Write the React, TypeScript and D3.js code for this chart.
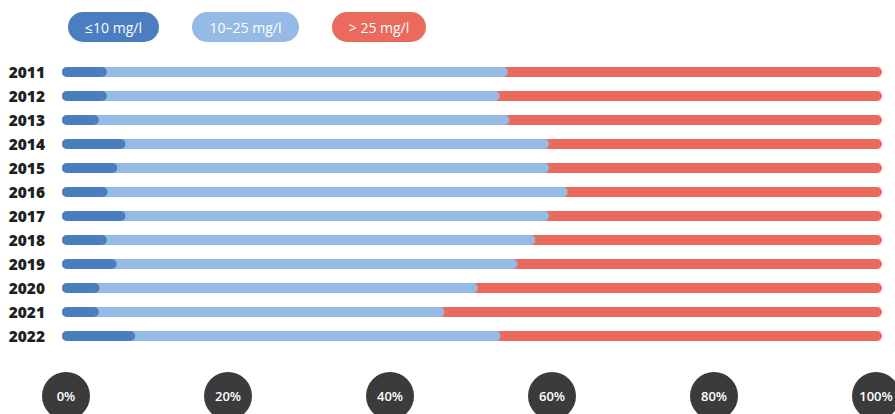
import { useMemo } from "react";
import * as d3 from "d3";

const WIDTH = 895;
const HEIGHT = 414;

// share of measurements per class, in %
const years = ["2011", "2012", "2013", "2014", "2015", "2016", "2017", "2018", "2019", "2020", "2021", "2022"];
const low = [4.3, 4.3, 3.3, 6.6, 5.6, 4.4, 6.6, 4.3, 5.5, 3.4, 3.3, 7.8];
const mid = [49.5, 48.5, 50.7, 52.3, 53.3, 56.8, 52.3, 52.9, 49.5, 46.7, 42.7, 45.1];
const high = [46.2, 47.2, 46.0, 41.1, 41.1, 38.8, 41.1, 42.8, 45.0, 49.9, 54.0, 47.1];

const legendLabels = ["≤10 mg/l", "10–25 mg/l", "> 25 mg/l"];
const tickValues = [0, 20, 40, 60, 80, 100];

const colors = ["#4b7ec0", "#95bae5", "#ea6b5d"];
const legendWidths = [91, 107, 94]; // pill sizes

const BAR_H = 10;

export default function App() {
  const x = useMemo(() => d3.scaleLinear().domain([0, 100]).range([67, 877]), []);
  const y = useMemo(() => d3.scalePoint<string>().domain(years).range([72, 336]), []);

  const rows = years.map((yr, i) => {
    const c1 = low[i];
    const c2 = low[i] + mid[i];
    const c3 = low[i] + mid[i] + high[i];
    const cy = y(yr) as number;
    // draw back to front: red full length, then light blue, then dark blue
    const segs = [
      { end: c3, color: colors[2] },
      { end: c2, color: colors[1] },
      { end: c1, color: colors[0] },
    ];
    return (
      <g key={yr}>
        <text
          x={45}
          y={cy}
          textAnchor="end"
          dominantBaseline="central"
          fontFamily="'Open Sans', sans-serif"
          fontWeight={800}
          fontSize={15.5}
          fill="#1f1f1f"
        >
          {yr}
        </text>
        {segs.map((s, j) => (
          <line
            key={j}
            x1={x(0)}
            x2={x(s.end)}
            y1={cy}
            y2={cy}
            stroke={s.color}
            strokeWidth={BAR_H}
            strokeLinecap="round"
          />
        ))}
      </g>
    );
  });

  let lx = 68;
  const legend = legendLabels.map((lab, i) => {
    const w = legendWidths[i];
    const g = (
      <g key={lab} transform={`translate(${lx},12)`}>
        <rect width={w} height={30} rx={15} fill={colors[i]} />
        <text
          x={w / 2}
          y={15}
          textAnchor="middle"
          dominantBaseline="central"
          fontFamily="'Open Sans', sans-serif"
          fontSize={14}
          fill="#fff"
        >
          {lab}
        </text>
      </g>
    );
    lx += w + 33;
    return g;
  });

  const ticks = tickValues.map((t) => (
    <g key={t} transform={`translate(${x(t) - 1},396)`}>
      <circle r={24} fill="#3b3b3c" />
      <text
        textAnchor="middle"
        dominantBaseline="central"
        fontFamily="'Open Sans', sans-serif"
        fontWeight={600}
        fontSize={13}
        fill="#fff"
      >
        {t}%
      </text>
    </g>
  ));

  return (
    <div style={{ position: "fixed", left: 0, top: 0 }}>
      <svg width={WIDTH} height={HEIGHT} style={{ display: "block", background: "#fff" }}>
        {legend}
        {rows}
        {ticks}
      </svg>
    </div>
  );
}
